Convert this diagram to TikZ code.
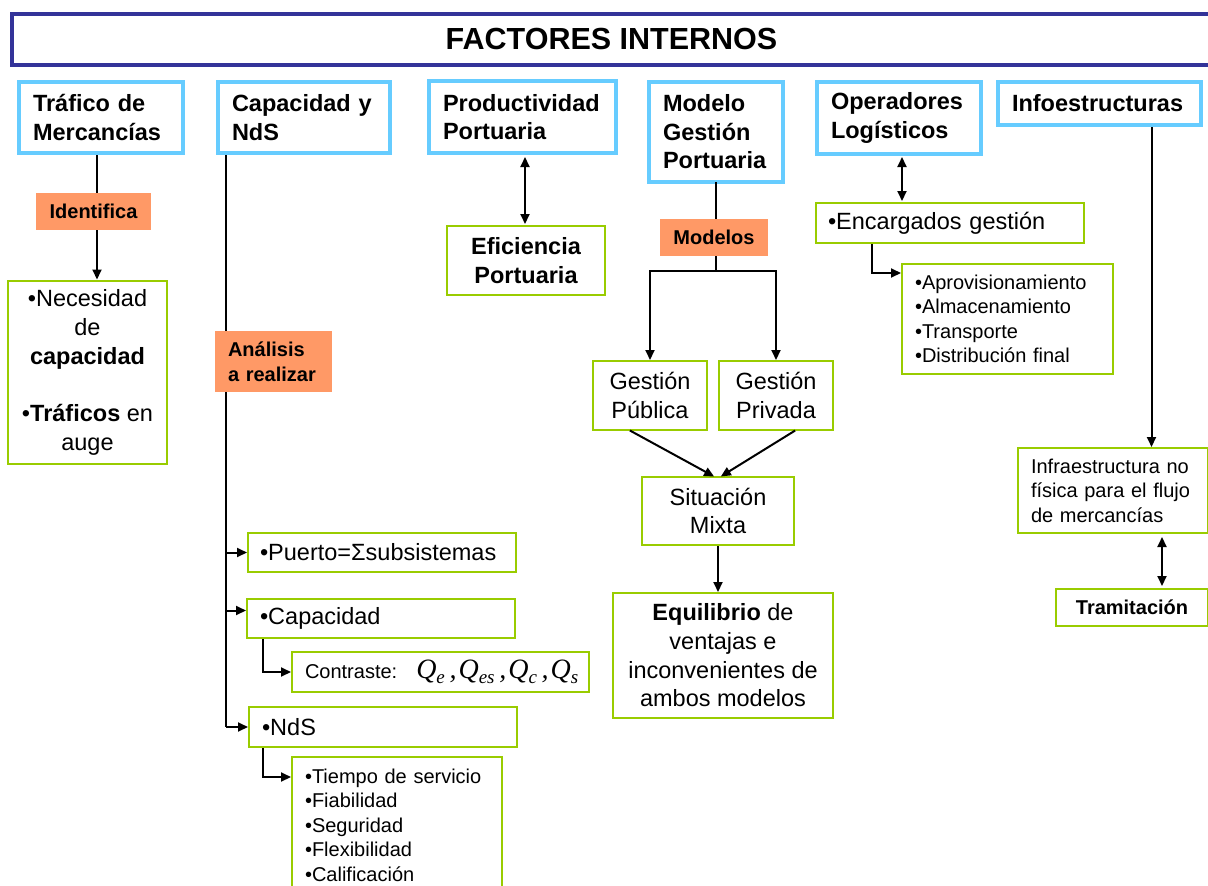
\documentclass[tikz,border=0pt]{standalone}
\usepackage{fontspec}
\setmainfont{Liberation Sans}
\newfontfamily\qfont{Liberation Serif}
\usetikzlibrary{arrows.meta}

\definecolor{titleblue}{HTML}{333399}
\definecolor{hdrblue}{HTML}{66CCFF}
\definecolor{boxgreen}{HTML}{99CC00}
\definecolor{tagorange}{HTML}{FF9966}

% subscript for the flow symbols Q
\newcommand{\qsub}[1]{\raisebox{-5pt}{\fontsize{19}{19}\selectfont #1}}

\tikzset{
  base/.style={rectangle, anchor=north west, outer sep=0pt, inner ysep=0pt},
  hdr/.style={base, draw=hdrblue, line width=4pt, fill=white,
    font=\fontsize{23.5}{28.5}\selectfont\bfseries, align=left, inner xsep=14pt},
  gbox/.style={base, draw=boxgreen, line width=2.5pt, fill=white},
  big/.style={font=\fontsize{23.5}{28.7}\selectfont},
  small/.style={font=\fontsize{20}{24.5}\selectfont},
  tag/.style={base, fill=tagorange, font=\fontsize{20}{25}\selectfont\bfseries},
  link/.style={line width=2pt, draw=black},
  arr/.style={link, -{Triangle[length=10pt,width=9pt]}},
  darr/.style={link, {Triangle[length=10pt,width=9pt]}-{Triangle[length=10pt,width=9pt]}},
}

\begin{document}
\begin{tikzpicture}[x=1pt, y=-1pt]
\useasboundingbox (0,0) rectangle (1208,886);
\clip (0,0) rectangle (1208,886);
\fill[white] (0,0) rectangle (1208,886);

% title bar
\node[base, draw=titleblue, line width=4pt, minimum width=1199pt, minimum height=51pt,
      font=\fontsize{30.5}{36}\selectfont\bfseries] (title) at (12,14) {FACTORES INTERNOS};

% column headers
\node[hdr, minimum width=164pt, minimum height=71pt, text width=136pt] (traf) at (19,82) {Tráfico de\\Mercancías};
\node[hdr, minimum width=172pt, minimum height=71pt, text width=144pt] (capnds) at (218,82) {Capacidad y\\NdS};
\node[hdr, minimum width=187pt, minimum height=72pt, text width=159pt] (prod) at (429,81) {Productividad\\Portuaria};
\node[hdr, minimum width=134pt, minimum height=100pt, text width=106pt] (modelo) at (649,82) {Modelo\\Gestión\\Portuaria};
\node[hdr, minimum width=164pt, minimum height=72pt, text width=136pt] (oper) at (817,82) {Operadores\\Logísticos};
\node[hdr, minimum width=203pt, minimum height=43pt, text width=175pt] (info) at (998,82) {Infoestructuras};

% column 1
\node[gbox, big, minimum width=159pt, minimum height=183pt, align=center] (nec) at (8,281)
  {•Necesidad\\de\\\textbf{capacidad}\\[28.7pt]•\textbf{Tráficos} en\\auge};

% column 2
\node[gbox, big, minimum width=268pt, minimum height=39pt, text width=244pt, inner xsep=12pt, align=left] (puerto) at (248,533) {•Puerto=Σsubsistemas};
\node[gbox, big, minimum width=268pt, minimum height=39pt, text width=242pt, inner xsep=13pt, align=left] (capb) at (247,599) {•Capacidad};
\node[gbox, small, minimum width=297pt, minimum height=40pt, text width=297pt, inner xsep=0pt, align=left] (contr) at (292,652)
  {\hspace*{13pt}Contraste:\hspace{19pt}\mbox{\qfont\itshape\fontsize{28}{28}\selectfont Q\qsub{e}\,,\kern2pt Q\qsub{es}\,,\kern2pt Q\qsub{c}\,,\kern2pt Q\qsub{s}}};
\node[gbox, big, minimum width=268pt, minimum height=40pt, text width=242pt, inner xsep=13pt, align=left] (ndsb) at (249,707) {•NdS};
\node[gbox, small, minimum width=210pt, minimum height=136pt, text width=184pt, inner xsep=13pt, align=left] (ndslist) at (292,757)
  {•Tiempo de servicio\\•Fiabilidad\\•Seguridad\\•Flexibilidad\\•Calificación};

% column 3
\node[gbox, big, minimum width=158pt, minimum height=69pt, align=center] (efic) at (447,226) {\bfseries Eficiencia\\\bfseries Portuaria};

% column 4
\node[gbox, big, minimum width=114pt, minimum height=69pt, align=center] (pub) at (593,361) {Gestión\\Pública};
\node[gbox, big, minimum width=114pt, minimum height=69pt, align=center] (priv) at (719,361) {Gestión\\Privada};
\node[gbox, big, minimum width=152pt, minimum height=68pt, align=center] (sit) at (642,477) {Situación\\Mixta};
\node[gbox, big, minimum width=220pt, minimum height=125pt, align=center] (eq) at (613,593)
  {\textbf{Equilibrio} de\\ventajas e\\inconvenientes de\\ambos modelos};

% column 5
\node[gbox, big, minimum width=268pt, minimum height=40pt, text width=244pt, inner xsep=12pt, align=left] (enc) at (816,203) {•Encargados gestión};
\node[gbox, small, minimum width=211pt, minimum height=110pt, text width=185pt, inner xsep=13pt, align=left] (oplist) at (902,264)
  {•Aprovisionamiento\\•Almacenamiento\\•Transporte\\•Distribución final};

% column 6
\node[gbox, small, minimum width=190pt, minimum height=85pt, text width=164pt, inner xsep=13pt, align=left] (infra) at (1018,448)
  {Infraestructura no\\física para el flujo\\de mercancías};
\node[gbox, small, minimum width=152pt, minimum height=37pt, align=center] (tram) at (1056,589) {\bfseries Tramitación};

% connectors, column 1
\draw[arr, shorten <=2pt, shorten >=1.5pt] ([xshift=-4pt]traf.south) -- ([xshift=-4pt]traf.south |- nec.north);

% connectors, column 2
\coordinate (spine) at ([xshift=8pt]capnds.south west);
\coordinate (capin) at ([yshift=8pt]capb.west);
\draw[link, line width=1.3pt] ([yshift=-2pt]spine) -- (spine |- ndsb.west);
\draw[arr, shorten >=1pt] (spine |- puerto.west) -- (puerto.west);
\draw[arr, shorten >=1pt] (spine |- capin) -- (capin);
\draw[arr, shorten >=1pt] (spine |- ndsb.west) -- (ndsb.west);
\draw[arr, shorten <=1pt, shorten >=1pt] ([xshift=16pt]capb.south west) |- (contr.west);
\draw[arr, shorten <=1pt, shorten >=1pt] ([xshift=14pt]ndsb.south west) |- ([yshift=-20pt]ndslist.north west);

% connectors, column 3
\draw[darr, shorten <=4pt, shorten >=2pt] ([xshift=2.5pt]prod.south) -- ([xshift=2.5pt]prod.south |- efic.north);

% connectors, column 4
\coordinate (split) at ([yshift=-89pt]modelo.south);
\draw[link] (modelo.south) -- (split);
\draw[arr, shorten >=1pt] (split) -| (pub.north);
\draw[arr, shorten >=1pt] (split) -| (priv.north);
\draw[arr, shorten <=1pt, shorten >=1pt] ([xshift=-21pt]pub.south) -- ([xshift=-3pt]sit.north);
\draw[arr, shorten <=1pt, shorten >=1pt] ([xshift=20pt]priv.south) -- ([xshift=2pt]sit.north);
\draw[arr, shorten <=1pt, shorten >=1pt] (sit.south) -- (sit.south |- eq.north);

% connectors, column 5
\draw[darr, shorten <=3pt, shorten >=2pt] ([xshift=3pt]oper.south) -- ([xshift=3pt]oper.south |- enc.north);
\draw[arr, shorten <=1pt, shorten >=1pt] ([xshift=56pt]enc.south west) |- ([yshift=-9pt]oplist.north west);

% connectors, column 6
\draw[arr, shorten <=2pt, shorten >=1pt] ([xshift=52pt]info.south) -- ([xshift=52pt]info.south |- infra.north);
\draw[darr, shorten <=3pt, shorten >=4pt] ([xshift=30pt]tram.north) -- ([xshift=30pt]tram.north |- infra.south);

% orange tags laid over the connectors
\node[tag, minimum width=115pt, minimum height=37pt] (ident) at (36,193) {Identifica};
\node[tag, minimum width=117pt, minimum height=61pt, text width=91pt, inner xsep=13pt, align=left] (anal) at (215,331) {Análisis\\a realizar};
\node[tag, minimum width=108pt, minimum height=37pt] (modl) at (660,219) {Modelos};
\end{tikzpicture}
\end{document}
